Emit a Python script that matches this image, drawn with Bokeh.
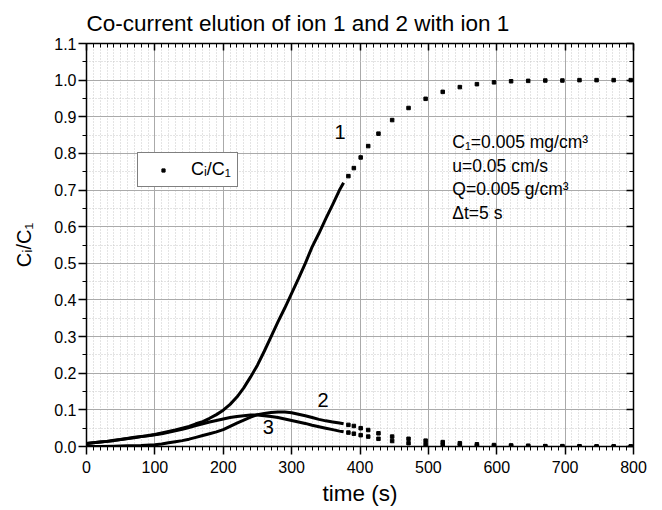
from bokeh.plotting import figure
from bokeh.models import (LinearAxis, SingleIntervalTicker, Range1d, Label,
                          Legend, LegendItem, CustomJSTickFormatter)
from bokeh.embed import file_html
from bokeh.resources import INLINE

# ---- data ----
t1_line = [0, 10, 20, 30, 40, 50, 60, 70, 80, 90, 100, 110, 120, 130, 140,
           150, 160, 170, 180, 190, 200, 210, 220, 230, 240, 250, 260, 270,
           280, 290, 300, 310, 320, 330, 340, 350, 360, 370, 376]
c1_line = [0.008, 0.010, 0.012, 0.014, 0.017, 0.019, 0.022, 0.025, 0.027,
           0.030, 0.033, 0.037, 0.041, 0.045, 0.050, 0.055, 0.062, 0.068,
           0.077, 0.087, 0.099, 0.115, 0.135, 0.160, 0.190, 0.222, 0.260,
           0.300, 0.340, 0.378, 0.418, 0.458, 0.500, 0.545, 0.582, 0.622,
           0.660, 0.700, 0.720]

tA_line = [0, 10, 20, 30, 40, 50, 60, 70, 80, 90, 100, 110, 120, 130, 140,
           150, 160, 170, 180, 190, 200, 210, 220, 230, 240, 250, 260, 270,
           280, 290, 300, 310, 320, 330, 340, 350, 360, 370, 376]
cA_line = [0.008, 0.010, 0.012, 0.014, 0.016, 0.019, 0.022, 0.024, 0.027,
           0.029, 0.032, 0.035, 0.039, 0.043, 0.047, 0.052, 0.057, 0.062,
           0.067, 0.071, 0.075, 0.079, 0.082, 0.084, 0.086, 0.086, 0.084,
           0.082, 0.079, 0.075, 0.071, 0.067, 0.063, 0.058, 0.054, 0.050,
           0.046, 0.042, 0.040]

tB_line = [0, 20, 40, 60, 80, 100, 110, 120, 130, 140, 150, 160, 170, 180,
           190, 200, 210, 220, 230, 240, 250, 260, 270, 280, 290, 300, 310,
           320, 330, 340, 350, 360, 370, 376]
cB_line = [0.0, 0.0, 0.001, 0.002, 0.003, 0.005, 0.007, 0.010, 0.013, 0.016,
           0.020, 0.025, 0.030, 0.035, 0.040, 0.046, 0.055, 0.064, 0.072,
           0.080, 0.087, 0.090, 0.093, 0.094, 0.094, 0.092, 0.088, 0.084,
           0.079, 0.074, 0.070, 0.067, 0.064, 0.062]

t_dots = [383, 391, 401, 412, 427, 447, 471, 496, 521, 546, 571, 596, 621,
          646, 671, 696, 721, 746, 771, 796]
c1_dots = [0.738, 0.760, 0.789, 0.820, 0.854, 0.891, 0.924, 0.949, 0.968,
           0.981, 0.989, 0.994, 0.997, 0.998, 0.999, 0.999, 1.0, 1.0, 1.0, 1.0]
cA_dots = [0.038, 0.035, 0.031, 0.027, 0.021, 0.015, 0.009, 0.006, 0.004,
           0.003, 0.002, 0.0015, 0.001, 0.001, 0.0005, 0.0, 0.0, 0.0, 0.0, 0.0]
cB_dots = [0.059, 0.056, 0.050, 0.045, 0.036, 0.027, 0.021, 0.016, 0.012,
           0.009, 0.006, 0.004, 0.003, 0.002, 0.001, 0.001, 0.0005, 0.0, 0.0, 0.0]

x_ticks_interval = 100
y_ticks_interval = 0.1

title_text = "Co-current elution of ion 1 and 2 with ion 1"
xlabel = "time (s)"
ylabel = "C\u1d62/C\u2081"
legend_text = "C\u1d62/C\u2081"
info_lines = ["C\u2081=0.005 mg/cm\u00b3", "u=0.05 cm/s",
              "Q=0.005 g/cm\u00b3", "\u0394t=5 s"]
info_y = [0.83, 0.765, 0.702, 0.637]
curve_labels = ["1", "2", "3"]
curve_label_x = [371, 346, 266]
curve_label_y = [0.858, 0.126, 0.054]

FONT = "Liberation Sans"

p = figure(frame_width=547, frame_height=403,
           x_range=Range1d(0, 800), y_range=Range1d(0, 1.1),
           output_backend="svg", toolbar_location=None,
           min_border_left=86, min_border_right=27,
           min_border_top=43, min_border_bottom=62)
p.background_fill_color = "white"
p.outline_line_color = None

p.title.text = title_text
p.title.align = "left"
p.title.text_font = FONT
p.title.text_font_size = "22.5px"
p.title.text_font_style = "normal"
p.title.text_color = "black"
p.title.standoff = 15

xt = SingleIntervalTicker(interval=x_ticks_interval, num_minor_ticks=10)
yt = SingleIntervalTicker(interval=y_ticks_interval, num_minor_ticks=2)

for ax in p.xaxis:
    ax.ticker = xt
    ax.axis_label = xlabel
for ax in p.yaxis:
    ax.ticker = yt
    ax.axis_label = ylabel

p.yaxis.formatter = CustomJSTickFormatter(code="return tick.toFixed(1);")

for ax in list(p.xaxis) + list(p.yaxis):
    ax.axis_line_width = 1.5
    ax.axis_line_color = "black"
    ax.major_tick_line_color = "black"
    ax.minor_tick_line_color = "black"
    ax.major_tick_line_width = 1.5
    ax.minor_tick_line_width = 1
    ax.major_tick_out = 8
    ax.major_tick_in = 0
    ax.minor_tick_out = 4
    ax.minor_tick_in = 0
    ax.major_label_text_font = FONT
    ax.major_label_text_font_size = "16px"
    ax.major_label_text_color = "black"
    ax.axis_label_text_font = FONT
    ax.axis_label_text_font_size = "22.5px"
    ax.axis_label_text_font_style = "normal"
    ax.axis_label_text_color = "black"

p.yaxis.axis_label_text_font_size = "20px"
p.xaxis.major_label_standoff = 6
p.xaxis.axis_label_standoff = 5
p.yaxis.major_label_standoff = 2
p.yaxis.axis_label_standoff = 16

blank = CustomJSTickFormatter(code="return '';")
top = LinearAxis(ticker=xt, formatter=blank,
                 major_tick_in=7, major_tick_out=0, minor_tick_in=4,
                 minor_tick_out=0, axis_line_width=1.5,
                 major_tick_line_width=1.5, major_label_standoff=0)
right = LinearAxis(ticker=yt, formatter=blank,
                   major_tick_in=7, major_tick_out=0, minor_tick_in=4,
                   minor_tick_out=0, axis_line_width=1.5,
                   major_tick_line_width=1.5, major_label_standoff=0)
p.add_layout(top, "above")
p.add_layout(right, "right")

for g in [p.xgrid[0], p.ygrid[0]]:
    g.grid_line_color = "#aaaaaa"
    g.grid_line_width = 1
    g.minor_grid_line_color = "#c8c8c8"
    g.minor_grid_line_dash = "1 2"
    g.minor_grid_line_width = 1
p.xgrid.ticker = xt
p.ygrid.ticker = yt

# curves
p.line(t1_line, c1_line, line_width=3, color="black")
p.line(tA_line, cA_line, line_width=3, color="black")
p.line(tB_line, cB_line, line_width=3, color="black")
r1 = p.scatter(t_dots, c1_dots, marker="square", size=3.5, color="black")
p.scatter(t_dots, cA_dots, marker="square", size=3.5, color="black")
p.scatter(t_dots, cB_dots, marker="square", size=3.5, color="black")

legend = Legend(items=[LegendItem(label=legend_text, renderers=[r1])],
                location=(51, 259), padding=6, glyph_width=38,
                glyph_height=8, label_standoff=9,
                border_line_color="black",
                border_line_width=1, background_fill_color="white",
                background_fill_alpha=1, label_text_font=FONT,
                label_text_color="black",
                label_text_font_size="18px", margin=0, label_height=20)
p.add_layout(legend, "center")

for txt, yv in zip(info_lines, info_y):
    p.add_layout(Label(x=535, y=yv, text=txt, text_font=FONT,
                       text_font_size="17.5px", text_baseline="middle",
                       text_align="left", text_color="black"))

for txt, xv, yv in zip(curve_labels, curve_label_x, curve_label_y):
    p.add_layout(Label(x=xv, y=yv, text=txt, text_font=FONT,
                       text_font_size="20px", text_baseline="middle",
                       text_align="center", text_color="black"))

open("out.html", "w").write(file_html(p, INLINE))
